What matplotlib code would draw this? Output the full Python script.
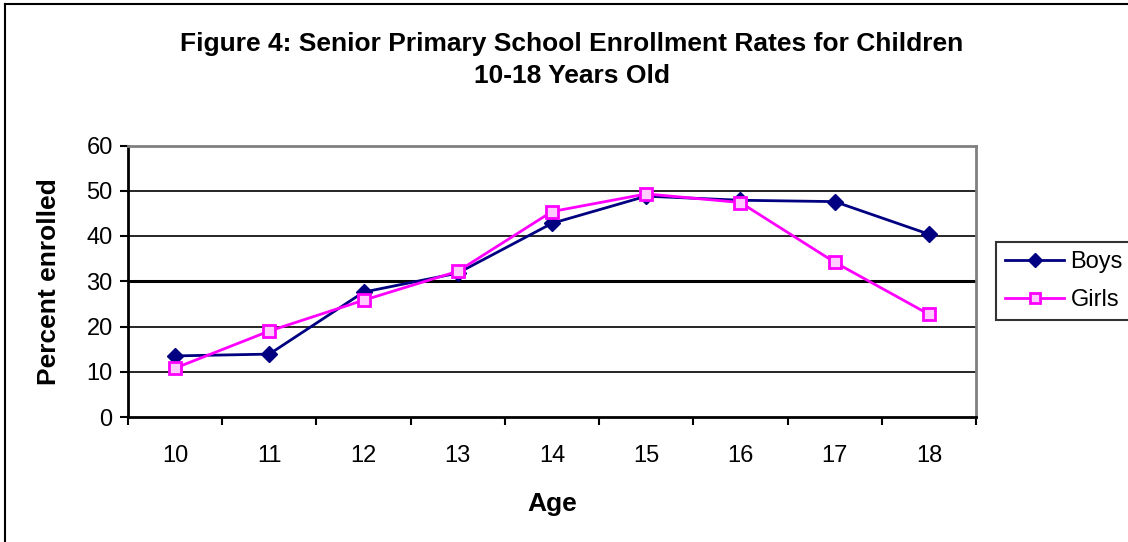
import numpy as np
import matplotlib.pyplot as plt
from matplotlib.lines import Line2D

plt.rcParams['font.family'] = ['Liberation Sans', 'DejaVu Sans']

# === Data ===
ages = ['10', '11', '12', '13', '14', '15', '16', '17', '18']
boys = [13.5, 13.9, 27.6, 31.8, 42.8, 48.8, 47.9, 47.6, 40.4]
girls = [10.8, 19.0, 25.8, 32.2, 45.4, 49.3, 47.4, 34.2, 22.7]
yticks = [0, 10, 20, 30, 40, 50, 60]

fig = plt.figure(figsize=(11.28, 5.42), dpi=100)
ax = fig.add_axes([128/1128, 1 - 417/542, (976 - 128)/1128, (417 - 145.5)/542])

x = np.arange(len(ages))
ax.plot(x, boys, color='#000080', lw=2, marker='D', ms=8, mfc='#000080',
        mec='#000080', label='Boys')
ax.plot(x, girls, color='#FF00FF', lw=2, marker='s', ms=8, mfc='#FFCCFF',
        mec='#FF00FF', mew=2, label='Girls')

# gridlines (30 drawn heavier)
for v in yticks[1:-1]:
    ax.axhline(v, color='black', lw=2.2 if v == 30 else 1.2, zorder=0)

ax.set_xlim(-0.5, len(ages) - 0.5)
ax.set_ylim(0, 60)
ax.set_yticks(yticks)
ax.set_xticks(x)
ax.set_xticklabels(ages)
ax.set_xticks(np.arange(-0.5, len(ages)), minor=True)
ax.tick_params(axis='x', which='major', length=0, pad=20, labelsize=17)
ax.tick_params(axis='x', which='minor', length=6, width=1.5, direction='out')
ax.tick_params(axis='y', length=6, width=1.5, direction='out', labelsize=17, pad=5)

for side in ['left', 'bottom']:
    ax.spines[side].set_color('black')
    ax.spines[side].set_linewidth(2)
for side in ['top', 'right']:
    ax.spines[side].set_color('#808080')
    ax.spines[side].set_linewidth(2)

ax.set_xlabel('Age', fontsize=19, fontweight='bold', labelpad=18)
ax.set_ylabel('Percent enrolled', fontsize=19, fontweight='bold', labelpad=18)

fig.text(572/1128, 1 - 60/542,
         'Figure 4: Senior Primary School Enrollment Rates for Children\n10-18 Years Old',
         ha='center', va='center', fontsize=19, fontweight='bold', linespacing=1.45)

leg = ax.legend(loc='upper left', bbox_to_anchor=(996/1128, 1 - 242/542),
                bbox_transform=fig.transFigure, frameon=True, fancybox=False,
                fontsize=17, handlelength=2.5, handletextpad=0.25,
                borderpad=0.4, labelspacing=0.65, borderaxespad=0,
                markerscale=0.85)
leg.get_frame().set_edgecolor('black')
leg.get_frame().set_linewidth(1.5)

# outer chart frame
fig.add_artist(Line2D([5/1128, 5/1128], [0, 1 - 4/542], color='black', lw=1.5))
fig.add_artist(Line2D([5/1128, 1], [1 - 4/542, 1 - 4/542], color='black', lw=1.5))

fig.savefig('out.png', dpi=100)
